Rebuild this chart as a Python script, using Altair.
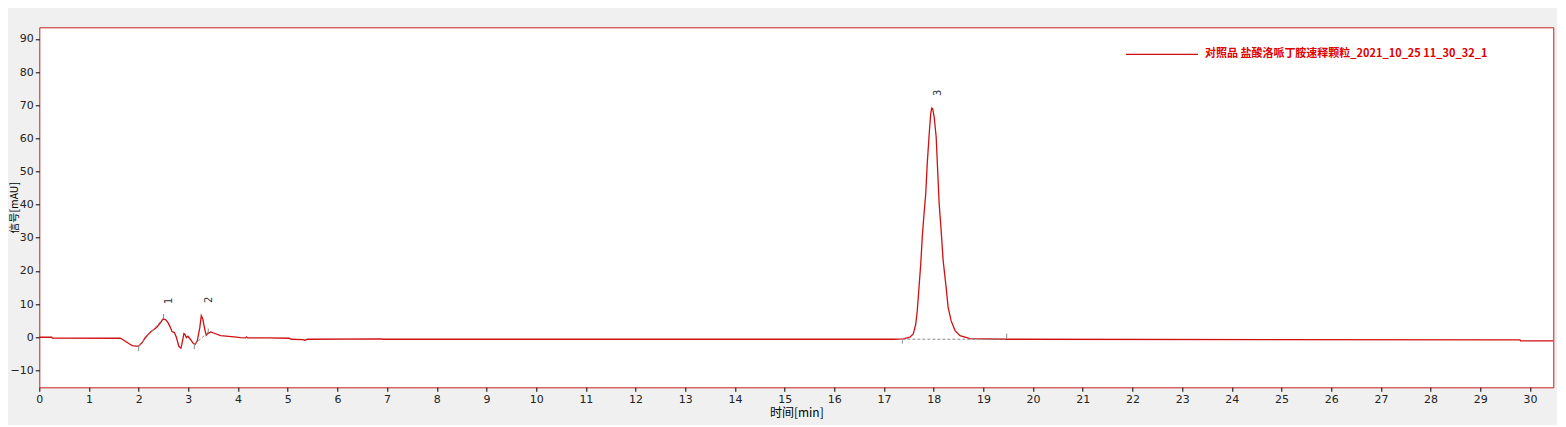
import altair as alt
import pandas as pd

# ---- data ----
times = [0.00, 0.25, 0.26, 1.63, 1.70, 1.80, 1.87, 1.95, 2.00, 2.07, 2.13, 2.24, 2.37, 2.44,
         2.49, 2.54, 2.59, 2.64, 2.67, 2.72, 2.76, 2.81, 2.85, 2.87, 2.91, 2.93, 2.96, 2.99,
         3.04, 3.10, 3.14, 3.18, 3.23, 3.26, 3.29, 3.33, 3.36, 3.39, 3.45, 3.52, 3.65, 3.92,
         4.05, 4.15, 4.17, 4.19, 4.59, 5.03, 5.07, 5.30, 5.35, 5.40, 6.90, 6.92, 17.19, 17.39,
         17.52, 17.59, 17.64, 17.67, 17.70, 17.74, 17.77, 17.80, 17.84, 17.87, 17.91, 17.94,
         17.96, 17.98, 18.01, 18.05, 18.08, 18.11, 18.15, 18.19, 18.25, 18.29, 18.35, 18.43,
         18.53, 18.73, 19.47, 29.80, 29.81, 30.47]
signal = [0.0, 0.0, -0.25, -0.3, -0.9, -1.9, -2.5, -2.7, -2.7, -1.6, -0.1, 1.6, 3.1, 4.4,
          5.5, 5.3, 4.4, 2.9, 1.7, 1.4, -0.1, -2.8, -3.3, -2.1, 1.1, 0.9, -0.1, 0.3,
          -0.6, -1.9, -2.1, -1.1, 2.9, 6.5, 5.5, 2.4, 0.6, 1.1, 1.6, 1.2, 0.5, 0.1,
          -0.1, -0.2, 0.1, -0.2, -0.2, -0.3, -0.6, -0.7, -0.9, -0.6, -0.5, -0.6, -0.6, -0.5,
          0.0, 1.0, 4.0, 8.1, 14.1, 22.2, 30.2, 36.2, 43.3, 52.3, 61.4, 67.4,
          69.1, 68.9, 66.4, 60.4, 50.3, 40.3, 32.2, 23.2, 15.1, 9.1, 5.0, 2.0,
          0.5, -0.4, -0.6, -0.8, -1.1, -1.1]
series_name = "对照品 盐酸洛哌丁胺速释颗粒_2021_10_25 11_30_32_1"

# integration baselines (start t, start v, end t, end v)
base_t1 = [2.00, 3.12, 17.37]
base_v1 = [-2.7, -2.1, -0.6]
base_t2 = [2.50, 3.40, 19.47]
base_v2 = [5.8, 1.5, -0.6]

# peak start/end markers
mark_t = [2.00, 2.50, 3.12, 3.40, 17.37, 19.47]
mark_v1 = [-2.7, 5.5, -2.1, 1.3, -0.9, -0.4]
mark_v2 = [-4.2, 7.0, -3.6, 2.6, -1.9, 1.1]

# peak labels
peak_names = ["1", "2", "3"]
peak_t = [2.62, 3.41, 18.09]
peak_v = [11.0, 11.3, 73.7]

x_ticks = list(range(0, 31))
y_ticks = list(range(-10, 91, 10))

trace = pd.DataFrame({"t": times, "v": signal, "series": series_name})
bases = pd.DataFrame({"t1": base_t1, "v1": base_v1, "t2": base_t2, "v2": base_v2})
marks = pd.DataFrame({"t": mark_t, "v1": mark_v1, "v2": mark_v2})
peaks = pd.DataFrame({"name": peak_names, "t": peak_t, "v": peak_v})

xs = alt.Scale(domain=[0, 30.47], nice=False, zero=False)
ys = alt.Scale(domain=[-15.1, 93.5], nice=False, zero=False)

axis_common = dict(labelFont="DejaVu Sans", labelFontSize=11, labelColor="#222222",
                   tickColor="#000000", tickSize=4, domain=False, grid=False,
                   labelOverlap=False, labelFlush=False,
                   titleFont="Noto Sans CJK SC", titleColor="#000000",
                   titleFontWeight="normal")

x_axis = alt.Axis(values=x_ticks, format="d", title="时间[min]", labelPadding=2,
                  titleX=757, titleY=25, titleBaseline="middle", titleFontSize=12,
                  **axis_common)
y_axis = alt.Axis(values=y_ticks, format="d", title="信号[mAU]", labelPadding=2,
                  titleAngle=-90, titleX=-24.5, titleY=180, titleAlign="center",
                  titleBaseline="middle", titleFontSize=10.5, **axis_common)

line = alt.Chart(trace).mark_line(strokeWidth=1.3, clip=True).encode(
    x=alt.X("t:Q", scale=xs, axis=x_axis),
    y=alt.Y("v:Q", scale=ys, axis=y_axis),
    color=alt.Color("series:N", scale=alt.Scale(range=["#d01010"]),
                    legend=alt.Legend(orient="none", legendX=1085.7, legendY=-10,
                                      symbolType="stroke", symbolSize=5184,
                                      symbolStrokeWidth=1.2, labelFont="Noto Sans CJK SC",
                                      labelFontSize=11, labelFontWeight="bold",
                                      labelColor="#e00000", labelLimit=700, labelOffset=6,
                                      title=None, padding=0)),
)

baseline = alt.Chart(bases).mark_rule(color="#8a8a8a", strokeWidth=1, strokeDash=[3, 2]).encode(
    x=alt.X("t1:Q", scale=xs, axis=x_axis), y=alt.Y("v1:Q", scale=ys, axis=y_axis),
    x2="t2:Q", y2="v2:Q",
)

ticks = alt.Chart(marks).mark_rule(color="#8a8a8a", strokeWidth=1).encode(
    x=alt.X("t:Q", scale=xs, axis=x_axis), y=alt.Y("v1:Q", scale=ys, axis=y_axis), y2="v2:Q",
)

labels = alt.Chart(peaks).mark_text(angle=270, font="DejaVu Sans", fontSize=10,
                                    color="#333333").encode(
    x=alt.X("t:Q", scale=xs, axis=x_axis), y=alt.Y("v:Q", scale=ys, axis=y_axis),
    text="name:N",
)

chart = alt.layer(line, baseline, ticks, labels).properties(
    width=1514, height=360,
    autosize=alt.AutoSizeParams(type="none"),
    padding={"left": 31.3, "top": 19.3, "right": 4, "bottom": 38},
    background="#f0f0f0",
).configure_view(fill="white", stroke="#c81e1e", strokeWidth=1
).configure_axis(labelOverlap=False)

chart.save("out.html", embed_options={"renderer": "svg", "actions": False})
